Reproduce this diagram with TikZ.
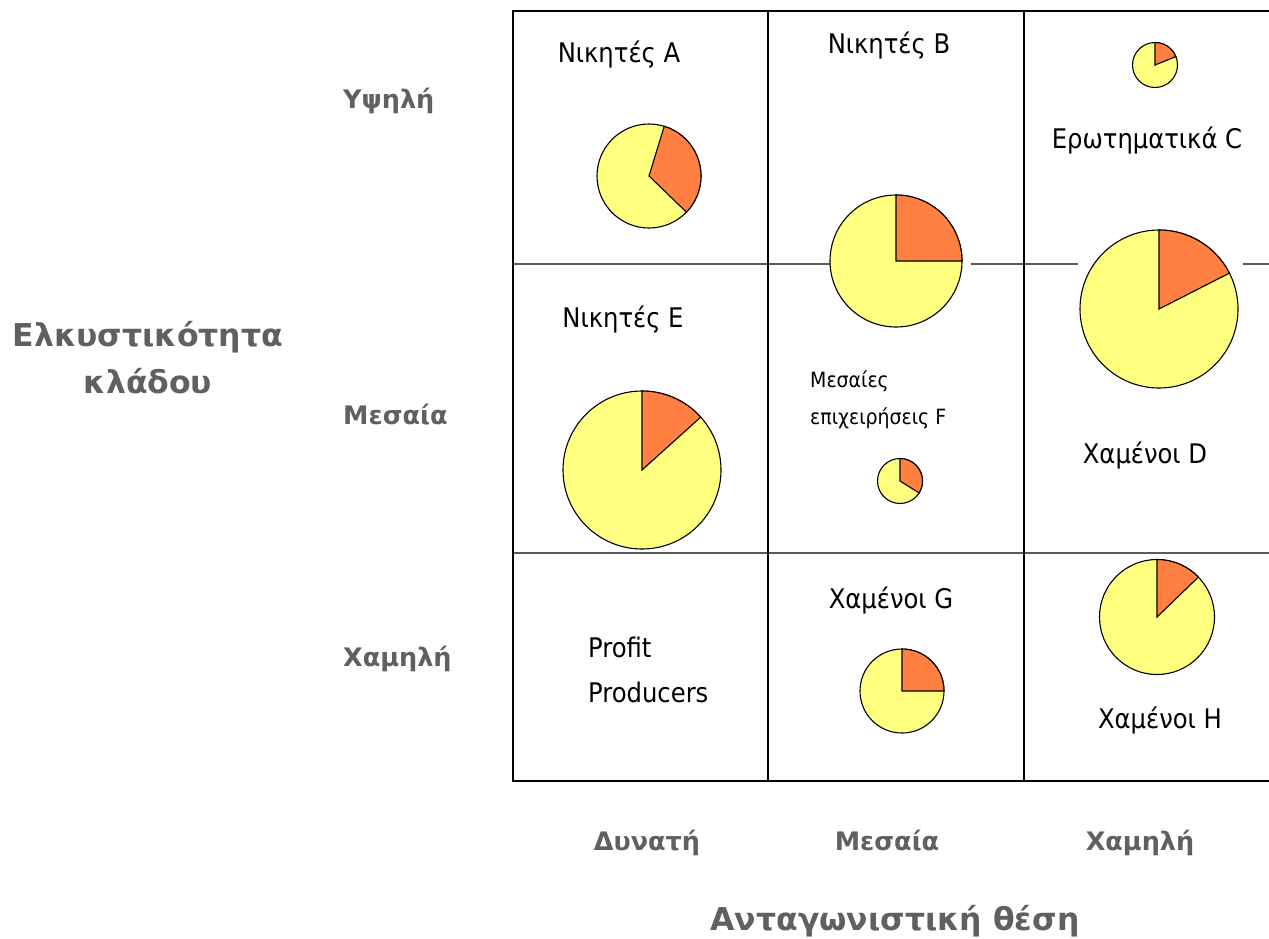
\documentclass[tikz,border=0pt]{standalone}
\usepackage{fontspec}
\setmainfont{DejaVu Sans Condensed}
\newfontfamily\labfont{DejaVu Sans}
\definecolor{pieyellow}{HTML}{FFFF80}
\definecolor{pieorange}{HTML}{FF8040}
\definecolor{labgray}{HTML}{606060}
\definecolor{gridgray}{HTML}{5A5A5A}
% y axis points down, so visual counter-clockwise angles are negated
\newcommand\mypie[5]{% center x, center y, radius, orange start angle, orange end angle (math sense)
  \draw[pieline,fill=pieyellow] (#1,#2) circle[radius=#3];
  \draw[pieline,fill=pieorange] (#1,#2) -- ++(-#5:#3) arc[start angle=-#5,end angle=-#4,radius=#3] -- cycle;}
\begin{document}
\begin{tikzpicture}[x=1pt,y=-1pt,
  pieline/.style={draw=black,line width=1.1pt},
  gridh/.style={draw=gridgray,line width=2.2pt},
  gridv/.style={draw=black,line width=2.4pt},
  celltext/.style={font=\fontsize{27}{30}\selectfont,text=black,inner sep=0pt,anchor=base},
  smalltext/.style={font=\fontsize{21}{24}\selectfont,text=black,inner sep=0pt,anchor=base west},
  axislab/.style={font=\labfont\bfseries\fontsize{25.5}{28}\selectfont,text=labgray,inner sep=0pt},
  bigaxis/.style={font=\labfont\bfseries\fontsize{31.5}{34}\selectfont,text=labgray,inner sep=0pt,anchor=base}]
\useasboundingbox (0,0) rectangle (1269,938);
% grid
\draw[gridh] (513,264) -- (1269,264);
\draw[gridh] (513,553) -- (1269,553);
\draw[gridv] (768,11) -- (768,781);
\draw[gridv] (1024,11) -- (1024,781);
\draw[gridv] (513,11) -- (1269,11);
\draw[gridv] (513,781) -- (1269,781);
\draw[gridv] (513,10) -- (513,782);
% white picture backgrounds that hide the grid line
\fill[white] (830,186) rectangle (971,335);
\fill[white] (1078,210) rectangle (1243,400);
% pies
\mypie{649}{176}{52}{-44}{73}
\mypie{896}{261}{66}{0}{90}
\mypie{1155}{65}{22.5}{22}{90}
\mypie{1159}{309}{79}{27}{90}
\mypie{642}{470}{79}{42}{90}
\mypie{900}{481}{22.5}{-32}{90}
\mypie{902}{691}{42}{0}{90}
\mypie{1157}{617}{57.5}{44}{90}
% cell texts
\node[celltext] (tA) at (619,62) {Νικητές A};
\node[celltext] (tB) at (889,53) {Νικητές B};
\node[celltext] (tC) at (1147,148) {Ερωτηματικά C};
\node[celltext] (tE) at (623,327) {Νικητές E};
\node[smalltext] (tF1) at (810,387) {Μεσαίες};
\node[smalltext] (tF2) at (810,424) {επιχειρήσεις F};
\node[celltext] (tD) at (1145,463) {Χαμένοι D};
\node[celltext] (tG) at (891,608) {Χαμένοι G};
\node[celltext,anchor=base west] (tP1) at (588,657) {Profit};
\node[celltext,anchor=base west] (tP2) at (588,702) {Producers};
\node[celltext] (tH) at (1160,728) {Χαμένοι H};
% axis labels
\node[axislab,anchor=base west] (yHigh) at (343,108) {Υψηλή};
\node[axislab,anchor=base west] (yMid) at (343,424) {Μεσαία};
\node[axislab,anchor=base west] (yLow) at (343,666) {Χαμηλή};
\node[bigaxis] (yTitle1) at (148,346) {Ελκυστικότητα};
\node[bigaxis] (yTitle2) at (148,393) {κλάδου};
\node[axislab,anchor=base] (xStrong) at (647,850) {Δυνατή};
\node[axislab,anchor=base] (xMid) at (887,850) {Μεσαία};
\node[axislab,anchor=base] (xLow) at (1140,850) {Χαμηλή};
\node[bigaxis] (xTitle) at (895,930) {Ανταγωνιστική θέση};
\end{tikzpicture}
\end{document}
